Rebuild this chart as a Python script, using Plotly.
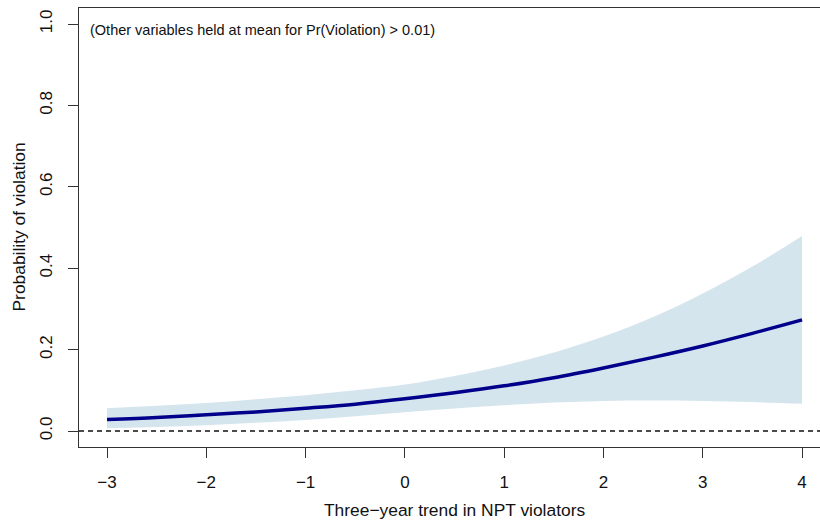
import plotly.graph_objects as go

# Data
trend = [-3, -2.5, -2, -1.5, -1, -0.5, 0, 0.5, 1, 1.5, 2, 2.5, 3, 3.5, 4]
prob = [0.028, 0.033, 0.040, 0.047, 0.056, 0.066, 0.079, 0.094, 0.111, 0.131,
        0.155, 0.181, 0.209, 0.240, 0.273]
upper = [0.056, 0.062, 0.069, 0.078, 0.088, 0.100, 0.114, 0.135, 0.161, 0.193,
         0.232, 0.280, 0.338, 0.404, 0.479]
lower = [0.007, 0.010, 0.014, 0.020, 0.027, 0.036, 0.046, 0.055, 0.063, 0.070,
         0.074, 0.075, 0.074, 0.071, 0.067]

x_ticks = [-3, -2, -1, 0, 1, 2, 3, 4]
x_ticktext = ["\u22123", "\u22122", "\u22121", "0", "1", "2", "3", "4"]
y_ticks = [0.0, 0.2, 0.4, 0.6, 0.8, 1.0]
y_ticktext = ["0.0", "0.2", "0.4", "0.6", "0.8", "1.0"]

x_title = "Three\u2212year trend in NPT violators"
y_title = "Probability of violation"
note = "(Other variables held at mean for Pr(Violation) > 0.01)"

FONT = "Liberation Sans, Arial, Helvetica, sans-serif"
BAND = "rgb(213,229,238)"
LINE = "#00008B"
AX = "#333333"
TXT = "#111111"

fig = go.Figure()
fig.add_trace(go.Scatter(x=trend, y=lower, mode="lines", line=dict(width=0, shape="spline"),
                         hoverinfo="skip", showlegend=False))
fig.add_trace(go.Scatter(x=trend, y=upper, mode="lines", line=dict(width=0, shape="spline"),
                         fill="tonexty", fillcolor=BAND, hoverinfo="skip", showlegend=False))
fig.add_trace(go.Scatter(x=trend, y=prob, mode="lines",
                         line=dict(color=LINE, width=3.5, shape="spline"), showlegend=False))

fig.add_shape(type="line", xref="paper", x0=0, x1=1, yref="y", y0=0, y1=0,
              line=dict(color="#111111", width=1.3, dash="5px,4px"))

fig.add_annotation(text=note, xref="x", yref="y", x=-3.19, y=0.986,
                   xanchor="left", yanchor="middle", showarrow=False,
                   font=dict(family=FONT, size=14.5, color=TXT))
fig.add_annotation(text=x_title, xref="x", yref="paper", x=0.5, y=0, yshift=-63,
                   xanchor="center", yanchor="middle", showarrow=False,
                   font=dict(family=FONT, size=17.4, color=TXT))
fig.add_annotation(text=y_title, xref="paper", yref="paper", x=0, xshift=-61, y=0.5,
                   xanchor="center", yanchor="middle", textangle=-90, showarrow=False,
                   font=dict(family=FONT, size=17.4, color=TXT))

fig.update_xaxes(range=[-3.282, 4.181], tickvals=x_ticks, ticktext=x_ticktext,
                 showgrid=False, zeroline=False, showline=True, linecolor=AX, linewidth=1.2,
                 mirror=True, ticks="outside", ticklen=10, tickcolor=AX, tickwidth=1.2,
                 ticklabelstandoff=9,
                 tickfont=dict(family=FONT, size=17, color=TXT))
fig.update_yaxes(range=[-0.0393, 1.0393], tickvals=y_ticks, ticktext=y_ticktext,
                 showgrid=False, zeroline=False, showline=True, linecolor=AX, linewidth=1.2,
                 mirror=False, ticks="outside", ticklen=10, tickcolor=AX, tickwidth=1.2,
                 tickangle=-90, ticklabelstandoff=9,
                 tickfont=dict(family=FONT, size=17, color=TXT))

fig.update_layout(width=820, height=522, margin=dict(l=79, r=0, t=8, b=75),
                  paper_bgcolor="white", plot_bgcolor="white")

fig.write_html("out.html", config={"displayModeBar": False},
               post_script="document.body.style.margin='0';")
